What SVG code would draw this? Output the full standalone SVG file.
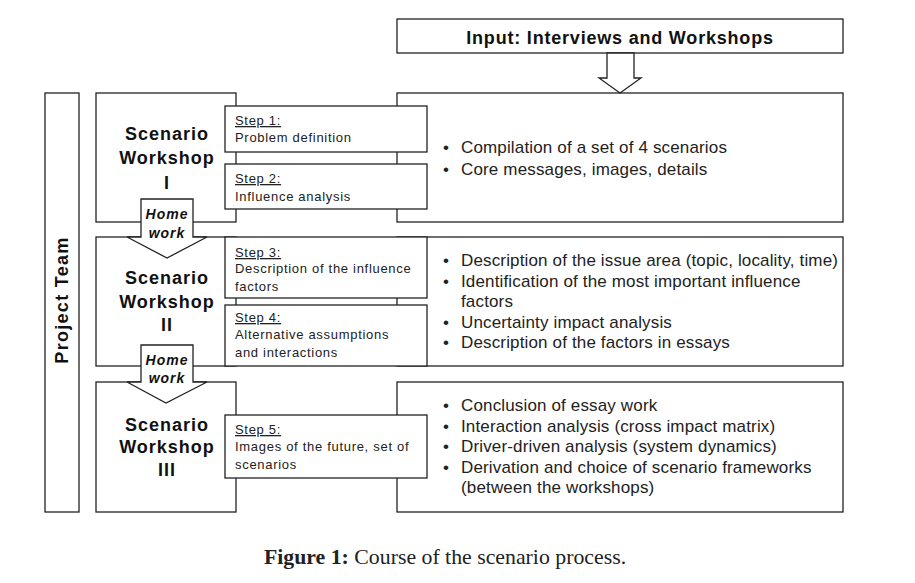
<svg xmlns="http://www.w3.org/2000/svg" width="915" height="583" viewBox="0 0 915 583">
<style>
.box{fill:#fff;stroke:#222;stroke-width:1.3}
.ttl{font-family:"Liberation Sans",Arial,sans-serif;font-weight:bold;font-size:18px;letter-spacing:1px;fill:#111;text-anchor:middle}
.step{font-family:"Liberation Sans",Arial,sans-serif;font-size:13px;letter-spacing:0.7px;fill:#222}
.bul{font-family:"Liberation Sans",Arial,sans-serif;font-size:17px;letter-spacing:0.15px;fill:#222}
.hw{font-family:"Liberation Sans",Arial,sans-serif;font-style:italic;font-weight:bold;font-size:14px;letter-spacing:1px;fill:#111;text-anchor:middle}
</style>
<rect width="915" height="583" fill="#fff"/>
<g id="project-team">
<rect class="box" x="45" y="93" width="34" height="419"/>
<text class="ttl" transform="translate(68,300) rotate(-90)" style="letter-spacing:1.3px">Project Team</text>
</g>
<g id="input">
<rect class="box" x="397" y="19" width="446" height="34"/>
<text class="ttl" x="620" y="44" style="letter-spacing:0.8px">Input: Interviews and Workshops</text>
</g>
<g id="workshop1">
<rect class="box" x="96" y="93" width="140" height="129"/>
<text class="ttl" x="167" y="140">Scenario</text>
<text class="ttl" x="167" y="164">Workshop</text>
<text class="ttl" x="167" y="189">I</text>
</g>
<g id="workshop2">
<rect class="box" x="96" y="237" width="140" height="129"/>
<text class="ttl" x="167" y="284">Scenario</text>
<text class="ttl" x="167" y="308">Workshop</text>
<text class="ttl" x="167" y="331">II</text>
</g>
<g id="workshop3">
<rect class="box" x="96" y="382" width="140" height="130"/>
<text class="ttl" x="167" y="431">Scenario</text>
<text class="ttl" x="167" y="453">Workshop</text>
<text class="ttl" x="167" y="476">III</text>
</g>
<g id="results1">
<rect class="box" x="397" y="93" width="446" height="129"/>
<text class="bul" x="443" y="153">•</text><text class="bul" x="461" y="153">Compilation of a set of 4 scenarios</text>
<text class="bul" x="443" y="175">•</text><text class="bul" x="461" y="175">Core messages, images, details</text>
</g>
<g id="results2">
<rect class="box" x="397" y="237" width="446" height="129"/>
<text class="bul" x="443" y="266">•</text><text class="bul" x="461" y="266">Description of the issue area (topic, locality, time)</text>
<text class="bul" x="443" y="287">•</text><text class="bul" x="461" y="287">Identification of the most important influence</text>
<text class="bul" x="461" y="307">factors</text>
<text class="bul" x="443" y="328">•</text><text class="bul" x="461" y="328">Uncertainty impact analysis</text>
<text class="bul" x="443" y="348">•</text><text class="bul" x="461" y="348">Description of the factors in essays</text>
</g>
<g id="results3">
<rect class="box" x="397" y="382" width="446" height="130"/>
<text class="bul" x="443" y="411">•</text><text class="bul" x="461" y="411">Conclusion of essay work</text>
<text class="bul" x="443" y="432">•</text><text class="bul" x="461" y="432">Interaction analysis (cross impact matrix)</text>
<text class="bul" x="443" y="452">•</text><text class="bul" x="461" y="452">Driver-driven analysis (system dynamics)</text>
<text class="bul" x="443" y="473">•</text><text class="bul" x="461" y="473">Derivation and choice of scenario frameworks</text>
<text class="bul" x="461" y="493">(between the workshops)</text>
</g>
<g id="step1">
<rect class="box" x="225" y="106" width="202" height="46"/>
<text class="step" x="235" y="125" text-decoration="underline">Step 1:</text>
<text class="step" x="235" y="142">Problem definition</text>
</g>
<g id="step2">
<rect class="box" x="225" y="164" width="202" height="45"/>
<text class="step" x="235" y="183" text-decoration="underline">Step 2:</text>
<text class="step" x="235" y="201">Influence analysis</text>
</g>
<g id="step3">
<rect class="box" x="225" y="237" width="202" height="61"/>
<text class="step" x="235" y="257" text-decoration="underline">Step 3:</text>
<text class="step" x="235" y="273">Description of the influence</text>
<text class="step" x="235" y="291">factors</text>
</g>
<g id="step4">
<rect class="box" x="225" y="305" width="202" height="61"/>
<text class="step" x="235" y="322" text-decoration="underline">Step 4:</text>
<text class="step" x="235" y="339">Alternative assumptions</text>
<text class="step" x="235" y="357">and interactions</text>
</g>
<g id="step5">
<rect class="box" x="225" y="415" width="202" height="63"/>
<text class="step" x="235" y="434" text-decoration="underline">Step 5:</text>
<text class="step" x="235" y="451">Images of the future, set of</text>
<text class="step" x="235" y="469">scenarios</text>
</g>
<g id="connectors">
<polygon class="box" points="607,53 634,53 634,78 641,78 620,93 599,78 607,78"/>
<polygon class="box" points="141,199 193,199 193,237 207,237 167,258 127,237 141,237"/>
<text class="hw" x="167" y="219">Home</text>
<text class="hw" x="167" y="238">work</text>
<polygon class="box" points="141,345 193,345 193,382 207,382 166,403 127,382 141,382"/>
<text class="hw" x="167" y="365">Home</text>
<text class="hw" x="167" y="383">work</text>
</g>
<g id="caption">
<text x="445" y="564" text-anchor="middle" font-family="'Liberation Serif','Times New Roman',serif" font-size="21.8" fill="#222"><tspan font-weight="bold">Figure 1:</tspan> Course of the scenario process.</text>
</g>
</svg>
